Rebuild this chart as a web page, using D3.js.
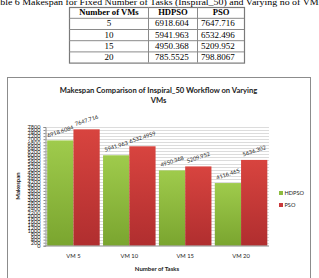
<!DOCTYPE html>
<html>
<head>
<meta charset="utf-8">
<script src="https://cdn.jsdelivr.net/npm/d3@7"></script>
<style>
  html, body { margin: 0; padding: 0; background: #fff; overflow: hidden; }
  svg { display: block; }
</style>
</head>
<body>
<svg id="page" width="319" height="278"></svg>
<script>
// Table data
var TableHeader = ["Number of VMs", "HDPSO", "PSO"];
var TableVMs = ["5", "10", "15", "20"];
var TableHDPSO = ["6918.604", "5941.963", "4950.368", "785.5525"];
var TablePSO = ["7647.716", "6532.496", "5209.952", "798.8067"];
// Chart data
var Categories = ["VM 5", "VM 10", "VM 15", "VM 20"];
var Series = ["HDPSO", "PSO"];
var HDPSOLabels = ["6918.6084", "5941.963", "4950.368", "4116.465"];
var PSOLabels = ["7647.716", "6532.4959", "5209.952", "5636.302"];
var HDPSOValues = [6918.6084, 5941.963, 4950.368, 4116.465];
var PSOValues = [7647.716, 6532.4959, 5209.952, 5636.302];
var YTicks = d3.range(0, 7801, 200);

var SVG = d3.select("#page");
var Serif = "'Liberation Serif', 'Times New Roman', serif";
var Sans = "Lato, 'Open Sans', sans-serif";

// Caption (clipped by the page edges)
SVG.append("text")
    .attr("x", 156.5).attr("y", 4.5)
    .attr("text-anchor", "middle")
    .attr("font-family", Serif).attr("font-size", 9)
    .attr("textLength", 332).attr("lengthAdjust", "spacingAndGlyphs")
    .text("Table 6 Makespan for Fixed Number of Tasks (Inspiral_50) and Varying no of VMs");

// Table
var ColEdges = [69, 148, 197, 244];
var RowEdges = [7, 17.8, 29, 40.2, 51.4, 62.6];
var Table = SVG.append("g");
Table.append("rect")
    .attr("x", ColEdges[0] + 0.5).attr("y", RowEdges[0] + 0.5)
    .attr("width", ColEdges[3] - ColEdges[0]).attr("height", RowEdges[5] - RowEdges[0])
    .attr("fill", "none").attr("stroke", "#7a7a7a").attr("stroke-width", 1.2);
ColEdges.slice(1, 3).forEach(X => Table.append("line")
    .attr("x1", X + 0.5).attr("x2", X + 0.5).attr("y1", RowEdges[0]).attr("y2", RowEdges[5])
    .attr("stroke", "#8a8a8a"));
RowEdges.slice(1, 5).forEach(Y => Table.append("line")
    .attr("x1", ColEdges[0]).attr("x2", ColEdges[3]).attr("y1", Y + 0.5).attr("y2", Y + 0.5)
    .attr("stroke", "#8a8a8a"));
TableHeader.forEach((Name, I) => Table.append("text")
    .attr("x", (ColEdges[I] + ColEdges[I + 1]) / 2 + 0.5).attr("y", RowEdges[0] + 8.4)
    .attr("text-anchor", "middle")
    .attr("font-family", Serif).attr("font-size", 8.6).attr("font-weight", "bold")
    .text(Name));
TableVMs.forEach((VM, I) => {
    var Y = RowEdges[I + 1] + 8.6;
    Table.append("text").attr("x", (ColEdges[0] + ColEdges[1]) / 2 + 0.5).attr("y", Y)
        .attr("text-anchor", "middle").attr("font-family", Serif).attr("font-size", 9).text(VM);
    Table.append("text").attr("x", ColEdges[1] + 7).attr("y", Y)
        .attr("font-family", Serif).attr("font-size", 9).text(TableHDPSO[I]);
    Table.append("text").attr("x", ColEdges[2] + 4).attr("y", Y)
        .attr("font-family", Serif).attr("font-size", 9).text(TablePSO[I]);
});

// Chart frame
SVG.append("rect")
    .attr("x", 7.5).attr("y", 77.5).attr("width", 303).attr("height", 220)
    .attr("fill", "#fff").attr("stroke", "#8c8c8c");

// Title
var Title = SVG.append("text")
    .attr("text-anchor", "middle")
    .attr("font-family", Sans).attr("font-size", 7.6).attr("font-weight", "bold").attr("fill", "#222");
Title.append("tspan").attr("x", 158.5).attr("y", 92.5).text("Makespan Comparison of Inspiral_50 Workflow on Varying");
Title.append("tspan").attr("x", 158.5).attr("y", 102.5).text("VMs");

// Scales
var X = d3.scaleBand().domain(Categories).range([45.5, 269]).paddingInner(0.06).paddingOuter(0.03);
var X1 = d3.scaleBand().domain(Series).range([0, X.bandwidth()]);
var Y = d3.scaleLinear().domain([0, 7800]).range([245.7, 127]);
var Colors = { HDPSO: "url(#green)", PSO: "url(#red)" };
var Solid = { HDPSO: "#8dbb3e", PSO: "#c9383a" };

// Gradients
var Defs = SVG.append("defs");
[["green", "#9fcb4c", "#7aa52f"], ["red", "#d8443f", "#b02e2f"]].forEach(([Id, Top, Bottom]) => {
    var G = Defs.append("linearGradient").attr("id", Id).attr("x1", 0).attr("x2", 0).attr("y1", 0).attr("y2", 1);
    G.append("stop").attr("offset", "0%").attr("stop-color", Top);
    G.append("stop").attr("offset", "100%").attr("stop-color", Bottom);
});

// Gridlines
SVG.append("g").selectAll("line").data(YTicks.slice(1)).join("line")
    .attr("x1", 45.5).attr("x2", 269)
    .attr("y1", D => Math.round(Y(D)) + 0.5).attr("y2", D => Math.round(Y(D)) + 0.5)
    .attr("stroke", "#c4c4c4").attr("stroke-width", 0.6);

// Y axis
var YAxis = SVG.append("g").attr("transform", "translate(45.5,0)")
    .call(d3.axisLeft(Y).tickValues(YTicks).tickSize(2).tickPadding(3).tickFormat(d3.format("d")));
YAxis.select(".domain").attr("stroke", "#8c8c8c");
YAxis.selectAll(".tick line").attr("stroke", "#8c8c8c");
YAxis.selectAll("text").attr("font-family", Sans).attr("font-size", 5.6).attr("fill", "#222");

// Bars
var Rows = Categories.map((C, I) => ({ Category: C, Values: [
    { Series: "HDPSO", Value: HDPSOValues[I], Label: HDPSOLabels[I] },
    { Series: "PSO", Value: PSOValues[I], Label: PSOLabels[I] }] }));
var Groups = SVG.append("g").selectAll("g").data(Rows).join("g")
    .attr("transform", D => `translate(${X(D.Category)},0)`);
Groups.selectAll("rect").data(D => D.Values).join("rect")
    .attr("x", D => X1(D.Series))
    .attr("y", D => Y(D.Value))
    .attr("width", X1.bandwidth())
    .attr("height", D => Y(0) - Y(D.Value))
    .attr("fill", D => Colors[D.Series]);
// Data labels
Groups.selectAll("text").data(D => D.Values).join("text")
    .attr("transform", D => `translate(${X1(D.Series) + X1.bandwidth() / 2},${Y(D.Value) - 9}) rotate(-18)`)
    .attr("text-anchor", "middle")
    .attr("dy", "0.35em")
    .attr("font-family", Sans).attr("font-size", 5.6).attr("fill", "#222")
    .text(D => D.Label);

// X axis
SVG.append("line").attr("x1", 45.5).attr("x2", 269).attr("y1", 246).attr("y2", 246).attr("stroke", "#8c8c8c");
SVG.append("g").selectAll("text").data(Categories).join("text")
    .attr("x", D => X(D) + X.bandwidth() / 2).attr("y", 258)
    .attr("text-anchor", "middle")
    .attr("font-family", Sans).attr("font-size", 5.8).attr("fill", "#222")
    .text(D => D);

// Axis titles
SVG.append("text").attr("x", 157).attr("y", 271)
    .attr("text-anchor", "middle")
    .attr("font-family", Sans).attr("font-size", 6).attr("font-weight", "bold").attr("fill", "#222")
    .text("Number of Tasks");
SVG.append("text").attr("transform", "translate(20,186) rotate(-90)")
    .attr("text-anchor", "middle")
    .attr("font-family", Sans).attr("font-size", 6).attr("font-weight", "bold").attr("fill", "#222")
    .text("Makespan");

// Legend
var Legend = SVG.append("g").selectAll("g").data(Series).join("g")
    .attr("transform", (D, I) => `translate(279,${191 + I * 12})`);
Legend.append("rect").attr("width", 4).attr("height", 4).attr("fill", D => Solid[D]);
Legend.append("text").attr("x", 5.5).attr("y", 2).attr("dy", "0.35em")
    .attr("font-family", Sans).attr("font-size", 5.6).attr("fill", "#222")
    .text(D => D);
</script>
</body>
</html>
